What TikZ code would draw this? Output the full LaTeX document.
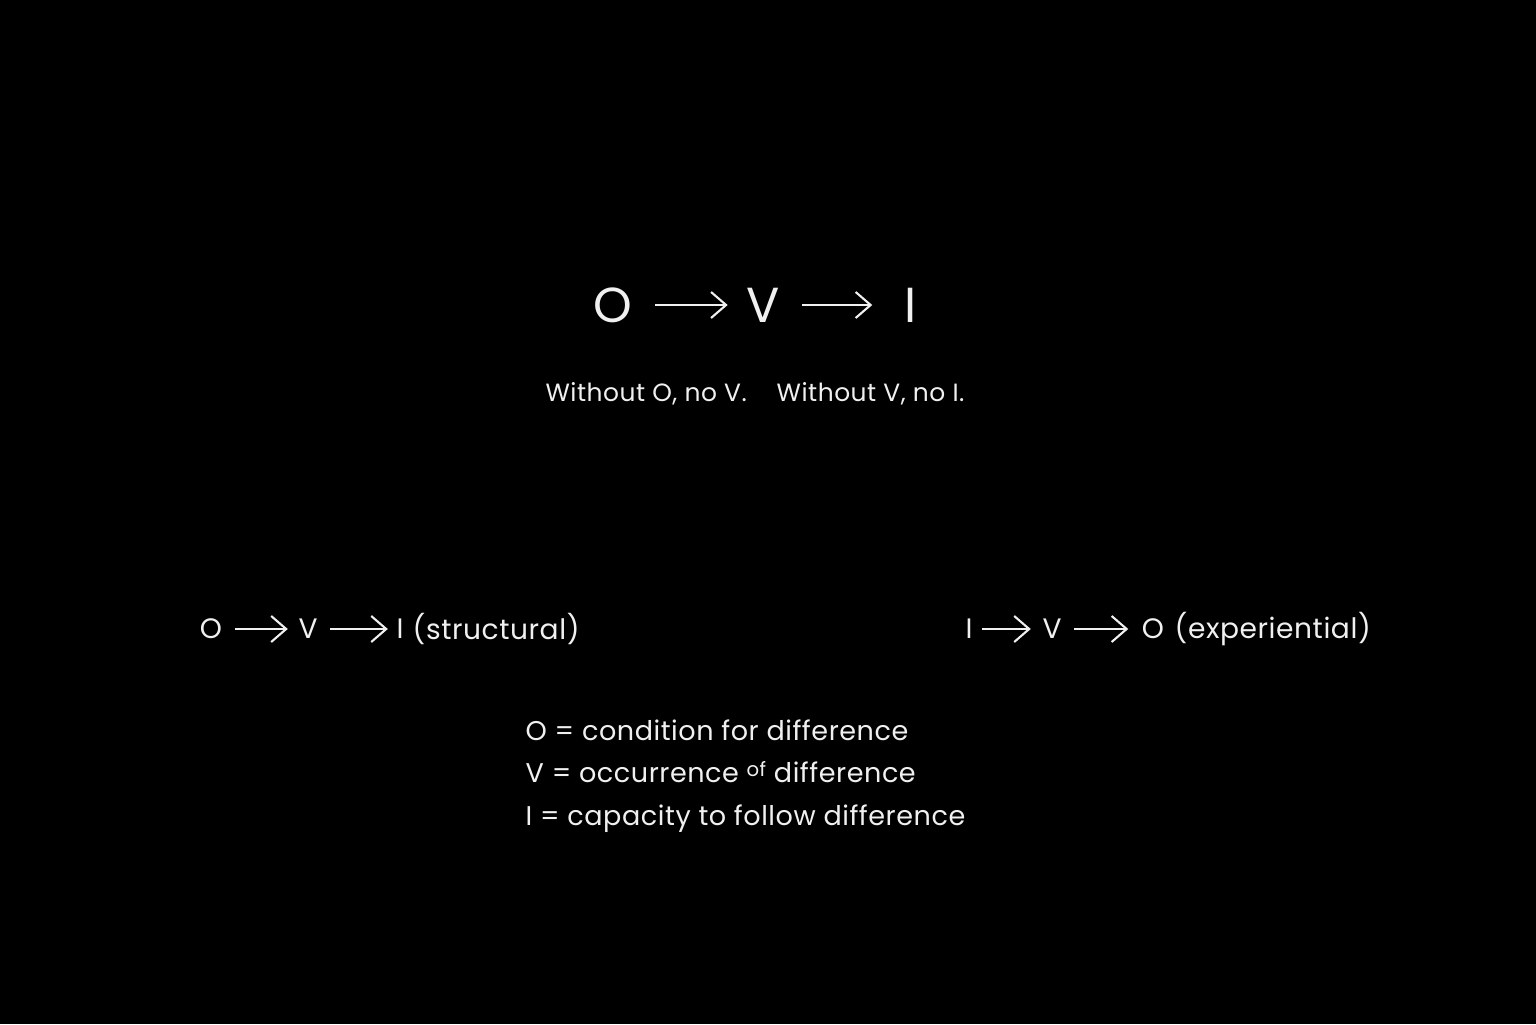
\documentclass[tikz,border=0pt]{standalone}
\usepackage{fontspec}
\setmainfont{Poppins}[LetterSpace=2]
\usetikzlibrary{arrows.meta}
\definecolor{ink}{HTML}{F0F0F0}

\begin{document}
\begin{tikzpicture}[x=1cm,y=1cm, every node/.style={text=ink, inner sep=0pt}]

      \fill[black] (0,0) rectangle (15.36,10.24);
      \useasboundingbox (0,0) rectangle (15.36,10.24);

      % main chain
      \begin{scope}[every node/.style={text=ink, inner sep=0pt, font=\fontsize{14}{16}\selectfont}]
        \node (o) at (6.13,7.19) {O};
        \node (v) at (7.63,7.19) {V};
        \node (i) at (9.11,7.19) {I};
      \end{scope}

      \node (note) at (7.55,6.30) {\fontsize{7.1}{9}\selectfont Without O, no V.\hspace{1.2em}Without V, no I.};

      % structural and experiential order
      \begin{scope}[every node/.style={text=ink, inner sep=0pt, font=\fontsize{8.0}{10}\selectfont}]
        \node (so) at (2.11,3.95) {O};
        \node (sv) at (3.08,3.95) {V};
        \node (si) at (4.00,3.95) {I};
        \node[anchor=west] (st) at (4.12,3.95) {(structural)};

        \node (ei) at (9.69,3.95) {I};
        \node (ev) at (10.52,3.95) {V};
        \node (eo) at (11.53,3.95) {O};
        \node[anchor=west] (ex) at (11.74,3.95) {(experiential)};
      \end{scope}

      % legend
      \begin{scope}[every node/.style={text=ink, inner sep=0pt, anchor=base west, font=\fontsize{7.7}{10}\selectfont}]
        \node (lo) at (5.25,2.84) {O = condition for difference};
        \node (lv) at (5.25,2.42) {V = occurrence \raisebox{0.35ex}{\fontsize{5.6}{7}\selectfont of} difference};
        \node (li) at (5.25,1.99) {I = capacity to follow difference};
      \end{scope}

      \begin{scope}[every edge/.style={draw=ink, line width=0.6pt, -{Straight Barb[length=1.5mm,width=2.6mm]}}]
        \path (o) edge[shorten <=2.2mm, shorten >=1.8mm] (v);
        \path (v) edge[shorten <=2.2mm, shorten >=3.2mm] (i);
        \path (so) edge[shorten <=1.2mm, shorten >=1.0mm] (sv);
        \path (sv) edge[shorten <=1.2mm, shorten >=0.8mm] (si);
        \path (ei) edge[shorten <=0.9mm, shorten >=1.1mm] (ev);
        \path (ev) edge[shorten <=1.2mm, shorten >=1.3mm] (eo);
      \end{scope}

    \end{tikzpicture}
\end{document}
